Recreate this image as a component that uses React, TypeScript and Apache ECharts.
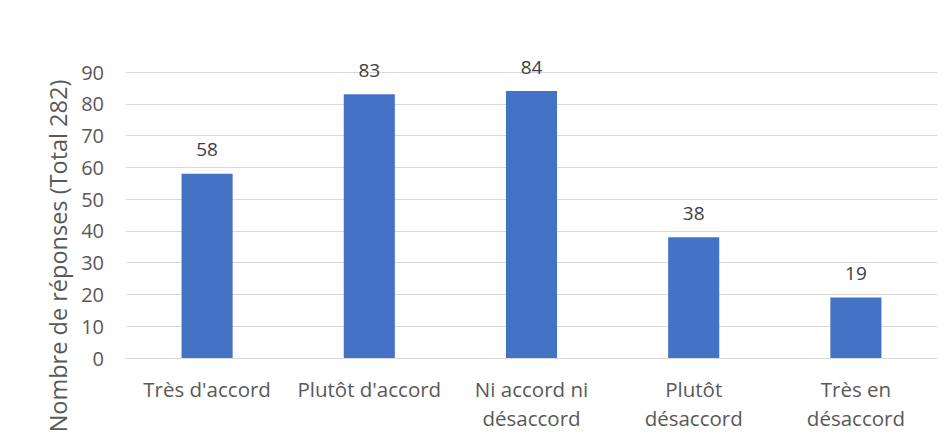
import React, { useEffect, useRef } from "react";
import * as echarts from "echarts";

const categories = ["Très d'accord", "Plutôt d'accord", "Ni accord ni\ndésaccord", "Plutôt\ndésaccord", "Très en\ndésaccord"];
const values = [58, 83, 84, 38, 19];
const yAxisTitle = "Nombre de réponses (Total 282)";

export default function App() {
  const ref = useRef<HTMLDivElement>(null);
  useEffect(() => {
    document.body.style.margin = "0";
    const chart = echarts.init(ref.current!, null, { renderer: "svg" });
    const font = "'Open Sans', 'Noto Sans', sans-serif";
    chart.setOption({
      animation: false,
      backgroundColor: "#ffffff",
      grid: { left: 126, right: 15, top: 72, bottom: 80, containLabel: false },
      xAxis: {
        type: "category",
        data: categories,
        axisLine: { show: true, lineStyle: { color: "#d9d9d9", width: 1 } },
        axisTick: { show: false },
        axisLabel: { color: "#595959", fontSize: 20.5, fontFamily: font, margin: 16, lineHeight: 29, interval: 0 },
      },
      yAxis: {
        type: "value",
        min: 0,
        max: 90,
        interval: 10,
        axisLine: { show: false },
        axisTick: { show: false },
        splitLine: { lineStyle: { color: "#d9d9d9", width: 1 } },
        axisLabel: { color: "#595959", fontSize: 20, fontFamily: font, margin: 22 },
      },
      graphic: [
        {
          type: "text",
          x: 58,
          y: 256,
          rotation: Math.PI / 2,
          style: {
            text: yAxisTitle,
            fill: "#595959",
            fontSize: 23.5,
            fontFamily: font,
            align: "center",
            verticalAlign: "middle",
          },
        },
      ],
      series: [
        {
          type: "bar",
          data: values,
          barWidth: "31.5%",
          itemStyle: { color: "#4472c4" },
          label: { show: true, position: "top", distance: 15, color: "#404040", fontSize: 19, fontFamily: font },
        },
      ],
    });
    return () => chart.dispose();
  }, []);
  return <div ref={ref} style={{ width: 952, height: 438 }} />;
}
